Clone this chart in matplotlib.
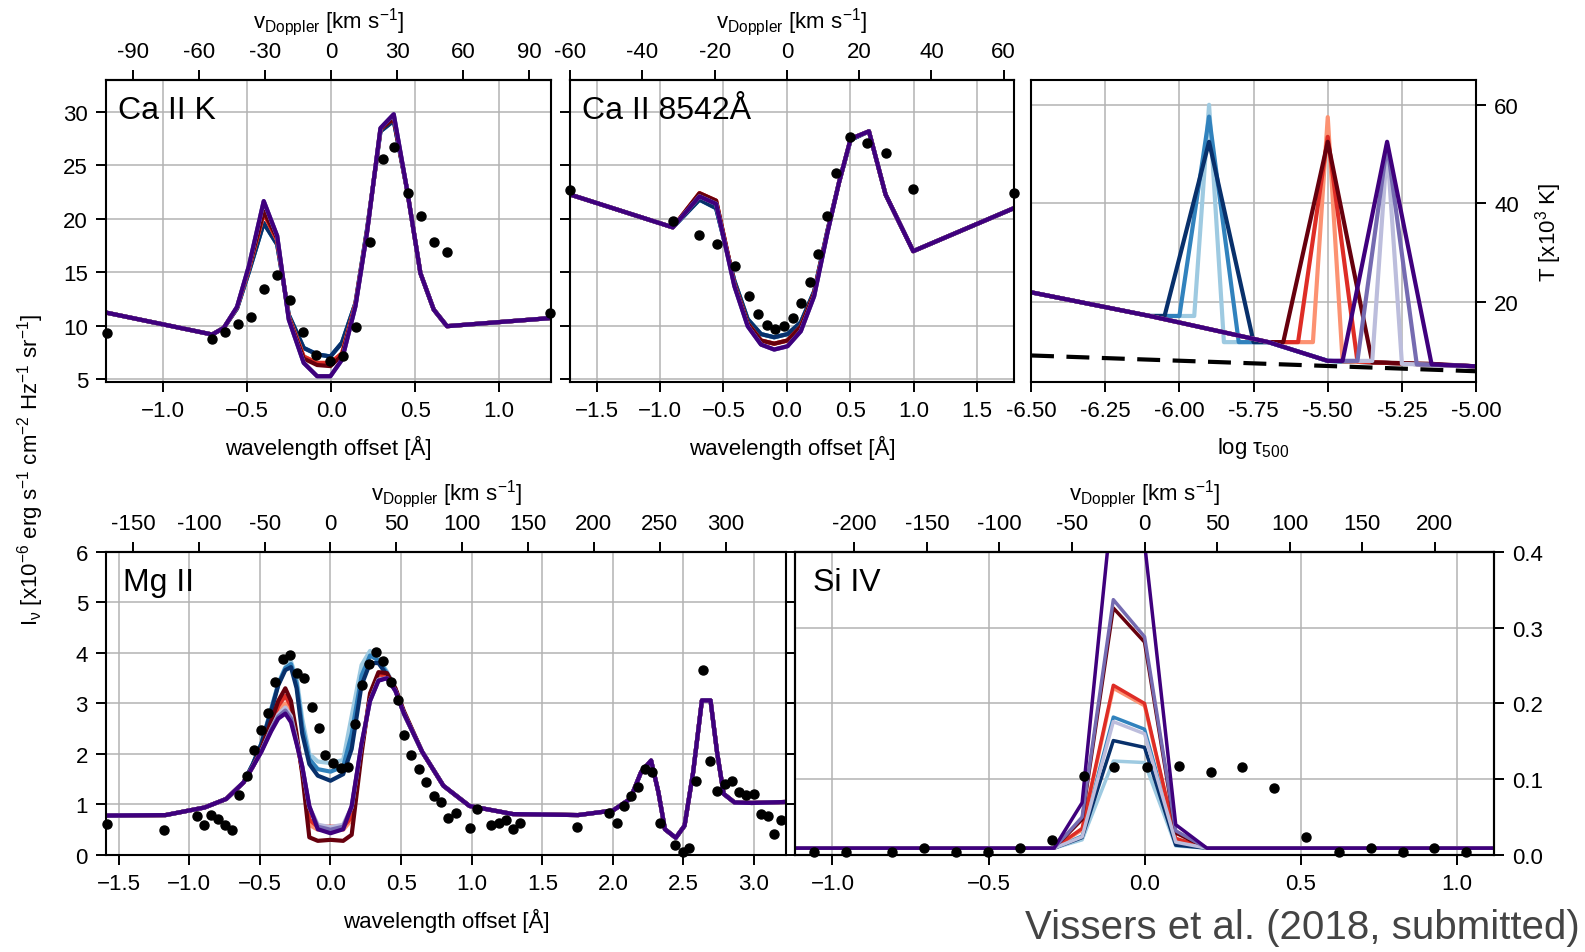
import matplotlib
matplotlib.use('Agg')
import matplotlib.pyplot as plt

plt.rcParams['font.family'] = ['Liberation Sans', 'DejaVu Sans']
plt.rcParams['font.size'] = 16
plt.rcParams['mathtext.fontset'] = 'custom'
plt.rcParams['mathtext.rm'] = 'Liberation Sans'
plt.rcParams['mathtext.it'] = 'Liberation Sans'
plt.rcParams['mathtext.default'] = 'regular'
plt.rcParams['axes.linewidth'] = 1.5
for a in ['xtick', 'ytick']:
    plt.rcParams[a + '.direction'] = 'out'
    plt.rcParams[a + '.major.size'] = 7
    plt.rcParams[a + '.major.width'] = 1.4
    plt.rcParams[a + '.major.pad'] = 6

# model colours: blues, reds, purples (light, mid, dark)
colors = ['#9ecae1', '#3182bd', '#08306b',
          '#fc9272', '#de2d26', '#67000d',
          '#bcbddc', '#756bb1', '#3f007d']

# ---------------- Ca II K ----------------
caK_x = [-1.333, -0.708, -0.639, -0.560, -0.490, -0.401, -0.321, -0.252, -0.163, -0.083, -0.004,
         0.065, 0.145, 0.214, 0.294, 0.373, 0.452, 0.532, 0.611, 0.690, 1.306]
caK_blue = [11.19, 9.16, 9.78, 11.6, 15.0, 19.6, 17.6, 11.0, 7.9, 7.3, 7.1,
            8.4, 12.1, 19.0, 28.2, 29.2, 22.75, 14.9, 11.5, 9.94, 10.7]
caK_red = [11.19, 9.16, 9.78, 11.7, 15.3, 20.5, 18.0, 10.8, 7.1, 6.5, 6.5,
           7.4, 12.0, 18.8, 28.4, 29.5, 22.75, 14.9, 11.5, 9.94, 10.7]
caK_dred = [11.19, 9.16, 9.78, 11.7, 15.4, 20.7, 18.2, 10.7, 6.9, 6.3, 6.2,
            7.2, 11.9, 18.8, 28.4, 29.4, 22.75, 14.9, 11.5, 9.94, 10.7]
caK_purple = [11.19, 9.16, 9.78, 11.75, 15.56, 21.66, 18.4, 10.56, 6.5, 5.25, 5.25,
              6.8, 11.8, 18.7, 28.5, 29.8, 22.75, 14.9, 11.5, 9.94, 10.7]
caK_obs_x = [-1.333, -0.708, -0.633, -0.556, -0.476, -0.399, -0.321, -0.242, -0.167, -0.087, -0.008,
             0.071, 0.151, 0.230, 0.308, 0.377, 0.460, 0.536, 0.615, 0.692, 1.306]
caK_obs_y = [9.31, 8.75, 9.4, 10.1, 10.8, 13.44, 14.7, 12.44, 9.4, 7.22, 6.66,
             7.19, 9.88, 17.8, 25.56, 26.75, 22.44, 20.25, 17.8, 16.9, 11.2]
caK_models = [caK_blue, caK_blue, caK_blue, caK_red, caK_red, caK_dred,
              caK_purple, caK_purple, caK_purple]

# ---------------- Ca II 8542 ----------------
ca8_x = [-1.71, -0.899, -0.689, -0.558, -0.414, -0.309, -0.204, -0.100, 0.005, 0.110,
         0.215, 0.320, 0.411, 0.503, 0.647, 0.778, 0.996, 1.79]
ca8_blue = [22.28, 19.2, 21.8, 21.0, 14.2, 10.6, 9.2, 8.9, 9.2, 10.3,
            13.2, 18.9, 23.4, 27.4, 28.2, 22.28, 16.97, 21.0]
ca8_red = [22.28, 19.2, 22.4, 21.7, 13.9, 10.2, 8.6, 8.3, 8.6, 9.9,
           13.0, 18.8, 23.4, 27.5, 28.2, 22.28, 16.97, 21.0]
ca8_purple = [22.28, 19.2, 22.1, 21.4, 13.7, 9.94, 8.22, 7.75, 8.06, 9.47,
              12.75, 18.7, 23.4, 27.5, 28.2, 22.28, 16.97, 21.0]
ca8_obs_x = [-1.71, -0.899, -0.689, -0.550, -0.409, -0.301, -0.231, -0.160, -0.092, -0.021,
             0.050, 0.115, 0.181, 0.249, 0.314, 0.388, 0.498, 0.634, 0.784, 0.993, 1.79]
ca8_obs_y = [22.7, 19.78, 18.47, 17.6, 15.56, 12.75, 11.1, 10.03, 9.69, 10.0,
             10.7, 12.1, 14.1, 16.66, 20.25, 24.25, 27.7, 27.06, 26.2, 22.8, 22.4]
ca8_models = [ca8_blue, ca8_blue, ca8_blue, ca8_red, ca8_red, ca8_red,
              ca8_purple, ca8_purple, ca8_purple]

# ---------------- temperature stratification ----------------
T_x_blue_light = [-6.5, -6.1, -5.95, -5.9, -5.85, -5.7, -5.5, -5.35, -5.0]
T_y_blue_light = [22.0, 17.2, 17.2, 60.0, 11.9, 11.9, 8.1, 7.8, 7.0]
T_x_blue_mid = [-6.5, -6.1, -6.0, -5.9, -5.8, -5.7, -5.5, -5.35, -5.0]
T_y_blue_mid = [22.0, 17.2, 17.2, 57.6, 11.9, 11.9, 8.1, 7.8, 7.0]
T_x_blue_dark = [-6.5, -6.1, -6.05, -5.9, -5.75, -5.7, -5.5, -5.35, -5.0]
T_y_blue_dark = [22.0, 17.2, 17.2, 52.5, 11.9, 11.9, 8.1, 7.8, 7.0]
T_x_red_light = [-6.5, -6.1, -5.7, -5.55, -5.5, -5.45, -5.35, -5.0]
T_y_red_light = [22.0, 17.2, 11.9, 11.9, 57.5, 8.0, 7.8, 7.0]
T_x_red_mid = [-6.5, -6.1, -5.7, -5.6, -5.5, -5.4, -5.35, -5.0]
T_y_red_mid = [22.0, 17.2, 11.9, 11.9, 53.5, 8.0, 7.8, 7.0]
T_x_red_dark = [-6.5, -6.1, -5.7, -5.65, -5.5, -5.35, -5.15, -5.0]
T_y_red_dark = [22.0, 17.2, 11.9, 11.9, 52.5, 7.8, 7.5, 7.0]
T_x_purple_light = [-6.5, -6.1, -5.7, -5.5, -5.35, -5.3, -5.25, -5.0]
T_y_purple_light = [22.0, 17.2, 11.9, 8.1, 8.1, 51.5, 7.5, 7.0]
T_x_purple_mid = [-6.5, -6.1, -5.7, -5.5, -5.4, -5.3, -5.2, -5.0]
T_y_purple_mid = [22.0, 17.2, 11.9, 8.1, 8.1, 52.0, 7.4, 7.0]
T_x_purple_dark = [-6.5, -6.1, -5.7, -5.5, -5.45, -5.3, -5.15, -5.0]
T_y_purple_dark = [22.0, 17.2, 11.9, 8.1, 8.1, 52.5, 7.4, 7.0]
T_ref_x = [-6.5, -5.0]
T_ref_y = [9.2, 6.0]
T_xs = [T_x_blue_light, T_x_blue_mid, T_x_blue_dark, T_x_red_light, T_x_red_mid,
        T_x_red_dark, T_x_purple_light, T_x_purple_mid, T_x_purple_dark]
T_ys = [T_y_blue_light, T_y_blue_mid, T_y_blue_dark, T_y_red_light, T_y_red_mid,
        T_y_red_dark, T_y_purple_light, T_y_purple_mid, T_y_purple_dark]

# ---------------- Mg II ----------------
mg_left_x = [-1.59, -1.169, -0.892, -0.738, -0.615]
mg_left_y = [0.78, 0.79, 0.94, 1.11, 1.44]
mg_core_x = [-0.55, -0.49, -0.42, -0.37, -0.32, -0.28, -0.24, -0.20, -0.15, -0.09, 0.0,
             0.09, 0.15, 0.22, 0.28, 0.34, 0.40, 0.46, 0.52, 0.65]
mg_right_x = [0.8, 0.985, 1.292, 1.754, 2.0, 2.123, 2.2, 2.271, 2.323, 2.369, 2.446,
              2.508, 2.569, 2.631, 2.692, 2.738, 2.785, 2.862, 2.985, 3.23]
mg_right_y = [1.37, 0.97, 0.81, 0.79, 0.88, 1.11, 1.64, 1.87, 1.24, 0.51, 0.34,
              0.58, 1.64, 3.06, 3.06, 2.04, 1.21, 1.04, 1.03, 1.05]
mg_blue_light = [1.8, 2.2, 2.9, 3.4, 3.72, 3.83, 3.5, 2.7, 2.0, 1.85, 1.82,
                 1.88, 2.75, 3.76, 4.04, 3.9, 3.63, 3.3, 2.82, 2.04]
mg_blue_mid = [1.8, 2.2, 2.88, 3.38, 3.7, 3.78, 3.4, 2.55, 1.9, 1.7, 1.65,
               1.75, 2.4, 3.55, 3.95, 3.85, 3.6, 3.28, 2.8, 2.04]
mg_blue_dark = [1.8, 2.2, 2.85, 3.36, 3.66, 3.72, 3.3, 2.4, 1.8, 1.57, 1.47,
                1.6, 2.1, 3.36, 3.8, 3.8, 3.56, 3.25, 2.8, 2.04]
mg_red_light = [1.75, 2.06, 2.55, 2.85, 3.0, 2.85, 2.25, 1.7, 0.6, 0.5, 0.5,
                0.5, 0.7, 2.1, 3.1, 3.55, 3.52, 3.26, 2.8, 2.04]
mg_red_mid = [1.75, 2.08, 2.6, 2.95, 3.15, 2.95, 2.3, 1.65, 0.7, 0.56, 0.56,
              0.56, 0.75, 2.1, 3.15, 3.58, 3.55, 3.28, 2.82, 2.04]
mg_red_dark = [1.75, 2.1, 2.65, 3.05, 3.3, 3.05, 2.4, 1.6, 0.35, 0.28, 0.3,
               0.28, 0.4, 2.0, 3.2, 3.62, 3.6, 3.3, 2.85, 2.04]
mg_purple_light = [1.75, 2.05, 2.5, 2.78, 2.92, 2.75, 2.25, 1.75, 0.95, 0.6, 0.55,
                   0.6, 0.95, 2.2, 3.05, 3.47, 3.5, 3.25, 2.8, 2.04]
mg_purple_mid = [1.75, 2.05, 2.48, 2.74, 2.86, 2.7, 2.22, 1.75, 0.95, 0.56, 0.5,
                 0.56, 0.95, 2.2, 3.05, 3.46, 3.5, 3.25, 2.8, 2.04]
mg_purple_dark = [1.75, 2.04, 2.45, 2.7, 2.8, 2.63, 2.2, 1.75, 0.97, 0.51, 0.43,
                  0.51, 0.97, 2.2, 3.05, 3.45, 3.5, 3.25, 2.8, 2.04]
mg_models = [mg_blue_light, mg_blue_mid, mg_blue_dark, mg_red_light, mg_red_mid,
             mg_red_dark, mg_purple_light, mg_purple_mid, mg_purple_dark]
mg_obs_x = [-1.585, -1.178, -0.948, -0.898, -0.846, -0.794, -0.745, -0.698, -0.646, -0.591,
            -0.545, -0.492, -0.44, -0.391, -0.338, -0.286, -0.237, -0.185, -0.132, -0.083,
            -0.037, 0.018, 0.071, 0.123, 0.172, 0.222, 0.271, 0.32, 0.375, 0.431,
            0.48, 0.523, 0.572, 0.625, 0.677, 0.732, 0.785, 0.834, 0.886, 0.985,
            1.04, 1.138, 1.191, 1.24, 1.292, 1.342, 1.748, 1.975, 2.028, 2.077,
            2.129, 2.178, 2.231, 2.277, 2.332, 2.437, 2.50, 2.538, 2.591, 2.637,
            2.689, 2.738, 2.791, 2.843, 2.892, 2.945, 2.997, 3.046, 3.098, 3.145, 3.194]
mg_obs_y = [0.61, 0.50, 0.78, 0.59, 0.79, 0.71, 0.59, 0.50, 1.19, 1.56,
            2.07, 2.47, 2.82, 3.42, 3.88, 3.95, 3.61, 3.51, 2.93, 2.51,
            1.98, 1.82, 1.72, 1.74, 2.6, 3.36, 3.79, 4.01, 3.84, 3.43,
            3.06, 2.37, 1.98, 1.70, 1.45, 1.16, 1.05, 0.74, 0.84, 0.54,
            0.92, 0.59, 0.64, 0.69, 0.51, 0.63, 0.56, 0.84, 0.64, 0.97,
            1.17, 1.34, 1.70, 1.64, 0.63, 0.19, 0.05, 0.13, 1.47, 3.66,
            1.87, 1.27, 1.41, 1.46, 1.25, 1.19, 1.21, 0.81, 0.78, 0.41, 0.69]

# ---------------- Si IV ----------------
si_x = [-1.12, -0.29, -0.2, -0.1, 0.0, 0.1, 0.2, 1.12]
si_blue_light = [0.009, 0.009, 0.020, 0.124, 0.122, 0.012, 0.009, 0.009]
si_blue_mid = [0.009, 0.009, 0.025, 0.182, 0.166, 0.018, 0.009, 0.009]
si_blue_dark = [0.009, 0.009, 0.023, 0.151, 0.142, 0.013, 0.009, 0.009]
si_red_light = [0.009, 0.009, 0.033, 0.220, 0.197, 0.021, 0.009, 0.009]
si_red_mid = [0.009, 0.009, 0.035, 0.224, 0.200, 0.022, 0.009, 0.009]
si_red_dark = [0.009, 0.009, 0.047, 0.326, 0.281, 0.029, 0.009, 0.009]
si_purple_light = [0.009, 0.009, 0.024, 0.176, 0.160, 0.017, 0.009, 0.009]
si_purple_mid = [0.009, 0.009, 0.050, 0.337, 0.288, 0.032, 0.009, 0.009]
si_purple_dark = [0.009, 0.009, 0.069, 0.478, 0.412, 0.040, 0.009, 0.009]
si_models = [si_blue_light, si_blue_mid, si_blue_dark, si_red_light, si_red_mid,
             si_red_dark, si_purple_light, si_purple_mid, si_purple_dark]
si_obs_x = [-1.06, -0.957, -0.808, -0.706, -0.604, -0.502, -0.4, -0.297, -0.195, -0.097,
            0.009, 0.11, 0.212, 0.312, 0.414, 0.517, 0.622, 0.725, 0.827, 0.929, 1.03]
si_obs_y = [0.004, 0.004, 0.004, 0.0096, 0.004, 0.004, 0.0096, 0.0196, 0.104, 0.116,
            0.116, 0.118, 0.11, 0.116, 0.088, 0.024, 0.004, 0.0096, 0.004, 0.009, 0.004]

# Doppler tick values (top axes) and line-centre wavelengths
c_kms = 299792.458
caK_vticks = [-90, -60, -30, 0, 30, 60, 90]
ca8_vticks = [-60, -40, -20, 0, 20, 40, 60]
mg_vticks = [-150, -100, -50, 0, 50, 100, 150, 200, 250, 300]
si_vticks = [-200, -150, -100, -50, 0, 50, 100, 150, 200]

grid_kw = dict(color='#b3b3b3', lw=1.1)
lw = 3.0


def top_axis(ax, lam0, vticks):
    f = c_kms / lam0
    sec = ax.secondary_xaxis('top', functions=(lambda x: x * f, lambda v: v / f))
    sec.set_xticks(vticks, labels=[str(v) for v in vticks])
    sec.set_xlabel(r'v$_{\rm Doppler}$ [km s$^{-1}$]', labelpad=10)
    return sec


def spectra(ax, x, models, obs_x, obs_y, width=lw):
    for y, c in zip(models, colors):
        ax.plot(x, y, color=c, lw=width)
    ax.plot(obs_x, obs_y, 'o', color='black', ms=6.5, zorder=5, clip_on=False)


fig = plt.figure(figsize=(15.85, 9.53), dpi=100)

# Ca II K
ax1 = fig.add_axes([0.0669, 0.598, 0.2808, 0.3169])
spectra(ax1, caK_x, caK_models, caK_obs_x, caK_obs_y)
ax1.set_xlim(-1.34, 1.31)
ax1.set_ylim(4.7, 33.0)
ax1.set_xticks([-1.0, -0.5, 0.0, 0.5, 1.0])
ax1.set_yticks([5, 10, 15, 20, 25, 30])
ax1.grid(**grid_kw)
ax1.set_xlabel('wavelength offset [Å]', labelpad=10)
ax1.text(0.028, 0.9, 'Ca II K', transform=ax1.transAxes, fontsize=23, va='center')
top_axis(ax1, 3933.66, caK_vticks)

# Ca II 8542
ax2 = fig.add_axes([0.3596, 0.598, 0.2801, 0.3169], sharey=ax1)
spectra(ax2, ca8_x, ca8_models, ca8_obs_x, ca8_obs_y)
ax2.set_xlim(-1.71, 1.79)
ax2.set_xticks([-1.5, -1.0, -0.5, 0.0, 0.5, 1.0, 1.5])
ax2.tick_params(labelleft=False)
ax2.grid(**grid_kw)
ax2.set_xlabel('wavelength offset [Å]', labelpad=10)
ax2.text(0.028, 0.9, 'Ca II 8542Å', transform=ax2.transAxes, fontsize=23, va='center')
top_axis(ax2, 8542.09, ca8_vticks)

# temperature
ax3 = fig.add_axes([0.6505, 0.598, 0.2808, 0.3169])
for tx, ty, c in zip(T_xs, T_ys, colors):
    ax3.plot(tx, ty, color=c, lw=lw)
ax3.plot(T_ref_x, T_ref_y, '--', color='black', lw=lw, dashes=(5.5, 3))
ax3.set_xlim(-6.5, -5.0)
ax3.set_ylim(3.8, 65)
ax3.set_xticks([-6.5, -6.25, -6.0, -5.75, -5.5, -5.25, -5.0])
ax3.xaxis.set_major_formatter(matplotlib.ticker.FormatStrFormatter('%.2f'))
ax3.set_yticks([20, 40, 60])
ax3.yaxis.tick_right()
ax3.yaxis.set_label_position('right')
ax3.set_ylabel(r'T [x10$^3$ K]', labelpad=10)
ax3.set_xlabel(r'log τ$_{500}$', labelpad=10)
ax3.grid(**grid_kw)

# Mg II
ax4 = fig.add_axes([0.0669, 0.1018, 0.4293, 0.318])
mg_x = mg_left_x + mg_core_x + mg_right_x
mg_full = [mg_left_y + m + mg_right_y for m in mg_models]
spectra(ax4, mg_x, mg_full, mg_obs_x, mg_obs_y)
ax4.set_xlim(-1.59, 3.23)
ax4.set_ylim(0, 6)
ax4.set_xticks([-1.5, -1.0, -0.5, 0.0, 0.5, 1.0, 1.5, 2.0, 2.5, 3.0])
ax4.set_yticks([0, 1, 2, 3, 4, 5, 6])
ax4.grid(**grid_kw)
ax4.set_xlabel('wavelength offset [Å]', labelpad=10)
ax4.text(0.025, 0.9, 'Mg II', transform=ax4.transAxes, fontsize=23, va='center')
top_axis(ax4, 2796.35, mg_vticks)

# Si IV
ax5 = fig.add_axes([0.5016, 0.1018, 0.4410, 0.318], sharey=ax4)
ax5.tick_params(labelleft=False)
ax5.set_xlim(-1.12, 1.12)
ax5.set_xticks([-1.0, -0.5, 0.0, 0.5, 1.0])
ax5.xaxis.grid(True, **grid_kw)
ax5t = ax5.twinx()
spectra(ax5t, si_x, si_models, si_obs_x, si_obs_y, width=2.5)
ax5t.set_ylim(0, 0.4)
ax5t.set_yticks([0.0, 0.1, 0.2, 0.3, 0.4])
ax5t.yaxis.set_major_formatter(matplotlib.ticker.FormatStrFormatter('%.1f'))
ax5t.yaxis.grid(True, **grid_kw)
ax5t.text(0.025, 0.9, 'Si IV', transform=ax5t.transAxes, fontsize=23, va='center')
top_axis(ax5, 1393.76, si_vticks)

fig.text(0.019, 0.507,
         r'I$_{ν}$ [x10$^{-6}$ erg s$^{-1}$ cm$^{-2}$ Hz$^{-1}$ sr$^{-1}$]',
         rotation=90, ha='center', va='center', fontsize=16)
fig.text(0.997, 0.006, 'Vissers et al. (2018, submitted)', ha='right', va='bottom',
         fontsize=29, color='#444444')

fig.savefig('out.png', dpi=100)
